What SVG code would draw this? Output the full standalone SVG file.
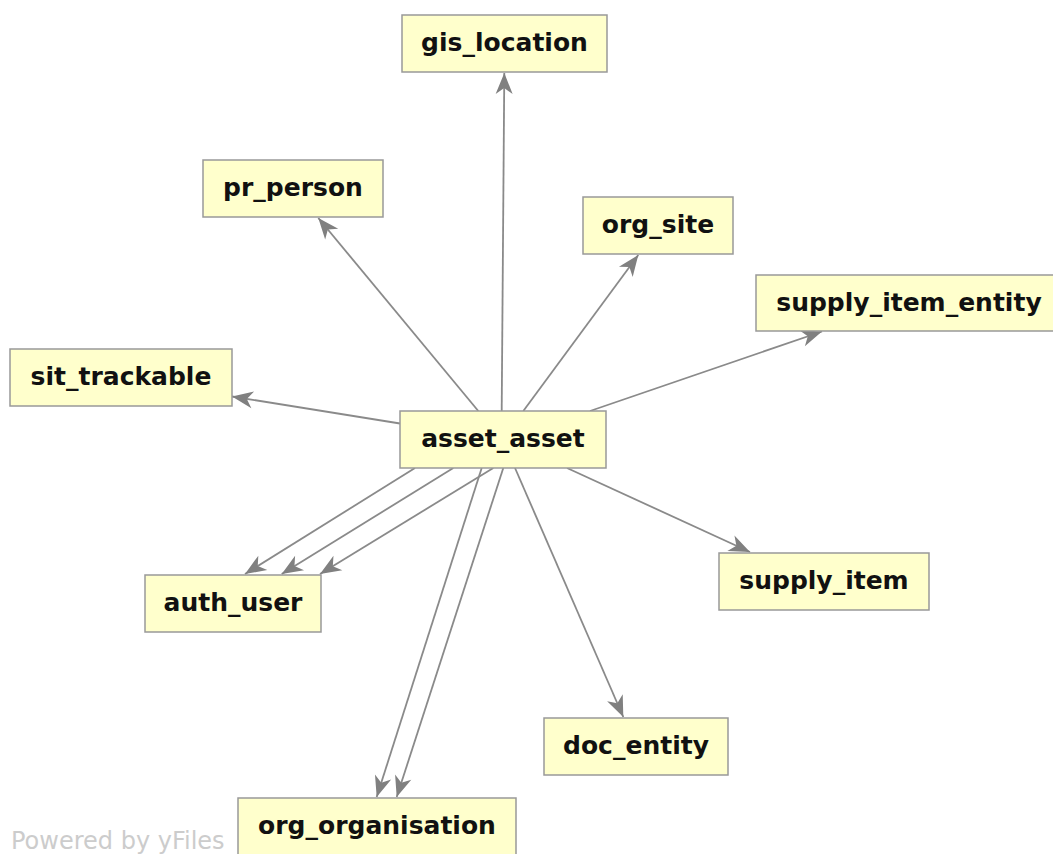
<svg xmlns="http://www.w3.org/2000/svg" width="1053" height="854" viewBox="0 0 1053 854">
  <style>
    .node rect { fill: #ffffcc; stroke: #999999; stroke-width: 1.5; }
    .node text { font-family: "DejaVu Sans", "Liberation Sans", sans-serif; font-weight: bold; font-size: 25px; fill: #111111; text-anchor: middle; }
    .edge { stroke: #8a8a8a; stroke-width: 1.8; fill: none; marker-end: url(#arrow); }
    .credit { font-family: "DejaVu Sans", "Liberation Sans", sans-serif; font-size: 24px; fill: #cccccc; }
  </style>
  <defs>
    <marker id="arrow" viewBox="-22 -10 23 20" refX="0" refY="0" markerWidth="23" markerHeight="20" markerUnits="userSpaceOnUse" orient="auto">
      <path d="M0,0 L-21,-8.5 L-15,0 L-21,8.5 Z" fill="#808080"/>
    </marker>
  </defs>
  <rect width="1053" height="854" fill="#ffffff"/>

  <!-- foreign-key references leaving asset_asset -->
  <g id="connectors">
    <line class="edge" x1="501.7" y1="411" x2="504.3" y2="73"/>
    <line class="edge" x1="478.3" y1="411" x2="318.3" y2="218"/>
    <line class="edge" x1="523.3" y1="411" x2="638.3" y2="255"/>
    <line class="edge" x1="590" y1="411" x2="822" y2="331.5"/>
    <line class="edge" x1="400" y1="423.5" x2="232" y2="396.5"/>
    <line class="edge" x1="415" y1="468" x2="245" y2="574"/>
    <line class="edge" x1="453.3" y1="468" x2="281.7" y2="574"/>
    <line class="edge" x1="493.3" y1="468" x2="320" y2="574"/>
    <line class="edge" x1="481.7" y1="468" x2="376.7" y2="797"/>
    <line class="edge" x1="503.3" y1="468" x2="396.7" y2="797"/>
    <line class="edge" x1="515" y1="468" x2="623.3" y2="717"/>
    <line class="edge" x1="567" y1="468" x2="750" y2="552"/>
  </g>

  <g id="gis_location" class="node">
    <rect x="402" y="15" width="205" height="57"/>
    <text x="504.5" y="51">gis_location</text>
  </g>
  <g id="pr_person" class="node">
    <rect x="203" y="160" width="180" height="57"/>
    <text x="293" y="196">pr_person</text>
  </g>
  <g id="org_site" class="node">
    <rect x="583" y="197" width="150" height="57"/>
    <text x="658" y="233">org_site</text>
  </g>
  <g id="supply_item_entity" class="node">
    <rect x="756" y="275" width="305" height="56"/>
    <text x="909" y="310.5">supply_item_entity</text>
  </g>
  <g id="sit_trackable" class="node">
    <rect x="10" y="349" width="222" height="57"/>
    <text x="121" y="385">sit_trackable</text>
  </g>
  <g id="asset_asset" class="node">
    <rect x="400" y="411" width="206" height="57"/>
    <text x="503" y="447">asset_asset</text>
  </g>
  <g id="auth_user" class="node">
    <rect x="145" y="575" width="176" height="57"/>
    <text x="233" y="611">auth_user</text>
  </g>
  <g id="supply_item" class="node">
    <rect x="719" y="553" width="210" height="57"/>
    <text x="824" y="589">supply_item</text>
  </g>
  <g id="doc_entity" class="node">
    <rect x="544" y="718" width="184" height="57"/>
    <text x="636" y="754">doc_entity</text>
  </g>
  <g id="org_organisation" class="node">
    <rect x="238" y="798" width="278" height="70"/>
    <text x="377" y="834">org_organisation</text>
  </g>

  <text class="credit" x="11" y="849">Powered by yFiles</text>
</svg>
